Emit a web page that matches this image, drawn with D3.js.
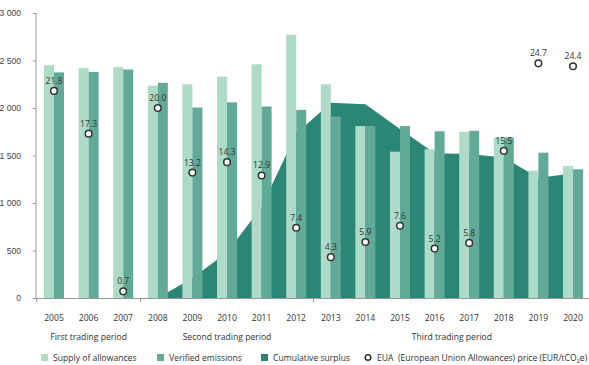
<!DOCTYPE html>
<html lang="en">
<head>
<meta charset="UTF-8">
<title>EU ETS supply, emissions and surplus</title>
<script src="https://d3js.org/d3.v7.min.js"></script>
<style>
body{margin:0;background:#fff;}
svg{display:block;font-family:"Open Sans",sans-serif;}
.tick text{fill:#444;font-size:8.6px;}
.lab{fill:#333;font-size:8.6px;}
</style>
</head>
<body>
<svg id="chart" width="589" height="365"></svg>
<script>
// values
var years=[2005,2006,2007,2008,2009,2010,2011,2012,2013,2014,2015,2016,2017,2018,2019,2020];
var supply=[2450,2420,2430,2235,2250,2330,2460,2770,2250,1810,1540,1565,1750,1690,1340,1390];
var verified=[2375,2380,2405,2265,2005,2060,2015,1980,1910,1810,1810,1755,1760,1690,1530,1355];
var surplusYears=[2008,2009,2010,2011,2012,2013,2014,2015,2016,2017,2018,2019,2020];
var surplus=[0,210,480,960,1730,2055,2040,1780,1525,1515,1480,1265,1310];
var price=[21.8,17.3,0.7,20.0,13.2,14.3,12.9,7.4,4.3,5.9,7.6,5.2,5.8,15.5,24.7,24.4];
var periods=[{name:"First trading period",from:2005,to:2007},
             {name:"Second trading period",from:2008,to:2012},
             {name:"Third trading period",from:2013,to:2020}];
var yTicks=[0,500,1000,1500,2000,2500,3000];

var cSupply="#aedac8", cVerified="#62aa98", cSurplus="#2b8675";

var svg=d3.select("#chart");
var x=d3.scaleBand().domain(years).range([36.7,590.3]).padding(0);
var sub=d3.scaleBand().domain(["s","v"]).range([0,20]);
var y=d3.scaleLinear().domain([0,3000]).range([298,13]);
var cx=function(yr){return x(yr)+x.bandwidth()/2;};

// cumulative surplus area behind the bars
var area=d3.area()
  .x(function(d,i){return cx(surplusYears[i]);})
  .y0(y(0))
  .y1(function(d){return y(d);});
svg.append("path").datum(surplus).attr("d",area).attr("fill",cSurplus);

var rows=years.map(function(yr,i){return {year:yr,s:supply[i],v:verified[i],p:price[i]};});

svg.selectAll("rect.sup").data(rows).enter().append("rect")
  .attr("class","sup")
  .attr("x",function(d){return cx(d.year)-10+sub("s");})
  .attr("width",sub.bandwidth())
  .attr("y",function(d){return y(d.s);})
  .attr("height",function(d){return y(0)-y(d.s);})
  .attr("fill",cSupply);
svg.selectAll("rect.ver").data(rows).enter().append("rect")
  .attr("class","ver")
  .attr("x",function(d){return cx(d.year)-10+sub("v");})
  .attr("width",sub.bandwidth())
  .attr("y",function(d){return y(d.v);})
  .attr("height",function(d){return y(0)-y(d.v);})
  .attr("fill",cVerified);

// axes
var yAxis=svg.append("g").attr("transform","translate(36,0)")
  .call(d3.axisLeft(y).tickValues(yTicks).tickSize(3).tickPadding(12)
    .tickFormat(function(d){return d3.format(",")(d).replace(/,/g," ");}));
yAxis.select(".domain").attr("stroke","#999").attr("d","M0,13V298");
yAxis.selectAll(".tick line").attr("stroke","#999");

var xb=svg.append("g");
xb.append("line").attr("x1",33).attr("x2",589).attr("y1",298.5).attr("y2",298.5).attr("stroke","#999");
xb.selectAll("line.sep").data(periods).enter().append("line")
  .attr("class","sep")
  .attr("x1",function(d){return x(d.from);}).attr("x2",function(d){return x(d.from);})
  .attr("y1",298).attr("y2",302).attr("stroke","#999");

svg.selectAll("text.yr").data(years).enter().append("text")
  .attr("class","lab").attr("text-anchor","middle")
  .attr("x",function(d){return cx(d);}).attr("y",321)
  .text(function(d){return d;});
svg.selectAll("text.per").data(periods).enter().append("text")
  .attr("class","lab").attr("text-anchor","middle")
  .attr("x",function(d){return (cx(d.from)+cx(d.to))/2;}).attr("y",340)
  .text(function(d){return d.name;});

// EUA price (plotted as price*100 on the left scale)
svg.selectAll("circle.pr").data(rows).enter().append("circle")
  .attr("cx",function(d){return cx(d.year);})
  .attr("cy",function(d){return y(d.p*100);})
  .attr("r",3.3).attr("fill","#fff").attr("stroke","#333").attr("stroke-width",1.5);
svg.selectAll("text.pl").data(rows).enter().append("text")
  .attr("class","lab").attr("text-anchor","middle")
  .attr("x",function(d){return cx(d.year);})
  .attr("y",function(d){return y(d.p*100)-7;})
  .text(function(d){return d.p.toFixed(1);});

// legend
var lg=svg.append("g").attr("class","legend");
var items=[{t:"Supply of allowances",c:cSupply,x:41},
           {t:"Verified emissions",c:cVerified,x:157},
           {t:"Cumulative surplus",c:cSurplus,x:261}];
items.forEach(function(it){
  lg.append("rect").attr("x",it.x).attr("y",354).attr("width",7).attr("height",7).attr("fill",it.c);
  lg.append("text").attr("class","lab").attr("x",it.x+12).attr("y",361).text(it.t);
});
lg.append("circle").attr("cx",368).attr("cy",357.5).attr("r",2.8)
  .attr("fill","#fff").attr("stroke","#333").attr("stroke-width",1.5);
var et=lg.append("text").attr("class","lab").attr("x",377).attr("y",361);
et.append("tspan").text("EUA\u00a0\u00a0(European Union Allowances) price (EUR/tCO");
et.append("tspan").attr("dy",2).style("font-size","5.5px").text("2");
et.append("tspan").attr("dy",-2).text("e)");
</script>
</body>
</html>
